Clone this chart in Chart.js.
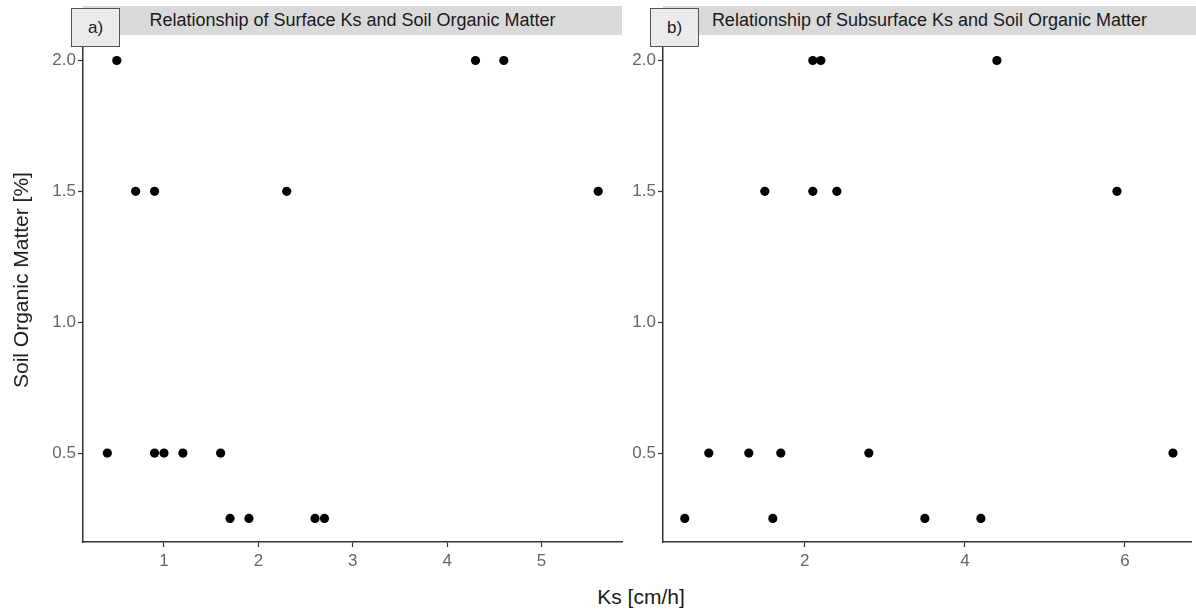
<!DOCTYPE html>
<html>
<head>
<meta charset="utf-8">
<script src="https://cdn.jsdelivr.net/npm/chart.js@4.4.1/dist/chart.umd.min.js"></script>
<style>
  body { margin: 0; width: 1196px; height: 611px; background: #fff; position: relative; overflow: hidden;
         font-family: "Liberation Sans", Arial, sans-serif; }
  .strip { position: absolute; top: 6px; height: 29px; background: #d9d9d9; color: #1a1a1a;
           font-size: 18px; line-height: 29px; text-align: center; white-space: nowrap; }
  .tag { position: absolute; top: 8px; height: 39px; width: 49px; background: #ebebeb; border: 1px solid #555;
         box-sizing: border-box; text-align: center; line-height: 37px; font-size: 17px; color: #1a1a1a; z-index: 5; }
  .box { position: absolute; }
  #ytitle { position: absolute; left: 21px; top: 280px; transform: translate(-50%, -50%) rotate(-90deg);
            font-size: 21px; color: #1a1a1a; white-space: nowrap; }
  #xtitle { position: absolute; left: 641px; top: 597px; transform: translate(-50%, -50%);
            font-size: 21px; color: #1a1a1a; white-space: nowrap; }
</style>
</head>
<body>
<div class="strip" style="left:83px;width:539px;">Relationship of Surface Ks and Soil Organic Matter</div>
<div class="strip" style="left:663px;width:533px;">Relationship of Subsurface Ks and Soil Organic Matter</div>
<div class="tag" style="left:71px;">a)</div>
<div class="tag" style="left:650px;">b)</div>
<div class="box" style="left:0;top:36px;width:630px;height:540px;"><canvas id="chartA"></canvas></div>
<div class="box" style="left:620px;top:36px;width:576px;height:540px;"><canvas id="chartB"></canvas></div>
<div id="ytitle">Soil Organic Matter [%]</div>
<div id="xtitle">Ks [cm/h]</div>
<script>
// surface samples
const surfaceKs = [0.4, 0.5, 0.7, 0.9, 0.9, 1.0, 1.2, 1.6, 1.7, 1.9, 2.3, 2.6, 2.7, 4.3, 4.6, 5.6];
const surfaceOM = [0.5, 2.0, 1.5, 1.5, 0.5, 0.5, 0.5, 0.5, 0.25, 0.25, 1.5, 0.25, 0.25, 2.0, 2.0, 1.5];

// subsurface samples
const subsurfaceKs = [0.5, 0.8, 1.3, 1.5, 1.6, 1.7, 2.1, 2.1, 2.2, 2.4, 2.8, 3.5, 4.2, 4.4, 5.9, 6.6];
const subsurfaceOM = [0.25, 0.5, 0.5, 1.5, 0.25, 0.5, 2.0, 1.5, 2.0, 1.5, 0.5, 0.25, 0.25, 2.0, 1.5, 0.5];

const xTicksA = [1, 2, 3, 4, 5];
const xTicksB = [2, 4, 6];
const yTicks = [0.5, 1.0, 1.5, 2.0];

const axisColor = '#333333';
const tickFont = { family: '"Liberation Sans", Arial, sans-serif', size: 17 };

function toPoints(xs, ys) {
    return xs.map((x, i) => ({ x: x, y: ys[i] }));
}

// drop the extra room Chart.js keeps for overhanging tick labels
function noPadding(s) {
    s.paddingTop = 0;
    s.paddingBottom = 0;
    s.paddingLeft = 0;
    s.paddingRight = 0;
}

function makeChart(id, xs, ys, xTicks, xMin, xMax, yWidth, padRight) {
    const ctx = document.getElementById(id).getContext('2d');
    return new Chart(ctx, {
        type: 'scatter',
        data: {
            datasets: [{
                data: toPoints(xs, ys),
                backgroundColor: '#000',
                borderWidth: 0,
                pointRadius: 4.6,
                clip: false,
            }],
        },
        options: {
            responsive: true,
            maintainAspectRatio: false,
            animation: false,
            events: [],
            layout: { padding: { top: 0, right: padRight, bottom: 0, left: 0 } },
            plugins: { legend: { display: false }, tooltip: { enabled: false } },
            scales: {
                x: {
                    type: 'linear',
                    min: xMin,
                    max: xMax,
                    afterBuildTicks: s => { s.ticks = xTicks.map(v => ({ value: v })); },
                    afterFit: s => { s.height = 34; noPadding(s); },
                    border: { display: true, color: axisColor, width: 1.5 },
                    grid: { drawOnChartArea: false, drawTicks: true, tickLength: 5, tickColor: axisColor, tickWidth: 1.2 },
                    ticks: { color: '#666', font: tickFont, padding: 4, maxRotation: 0 },
                },
                y: {
                    type: 'linear',
                    min: 0.16,
                    max: 2.076,
                    afterBuildTicks: s => { s.ticks = yTicks.map(v => ({ value: v })); },
                    afterFit: s => { s.width = yWidth; noPadding(s); },
                    border: { display: true, color: axisColor, width: 1.5 },
                    grid: { drawOnChartArea: false, drawTicks: true, tickLength: 5, tickColor: axisColor, tickWidth: 1.2 },
                    ticks: { color: '#666', font: tickFont, padding: 2, callback: v => v.toFixed(1) },
                },
            },
        },
    });
}

makeChart('chartA', surfaceKs, surfaceOM, xTicksA, 0.142, 5.852, 83, 8);
makeChart('chartB', subsurfaceKs, subsurfaceOM, xTicksB, 0.228, 6.83, 43, 0);
</script>
</body>
</html>
